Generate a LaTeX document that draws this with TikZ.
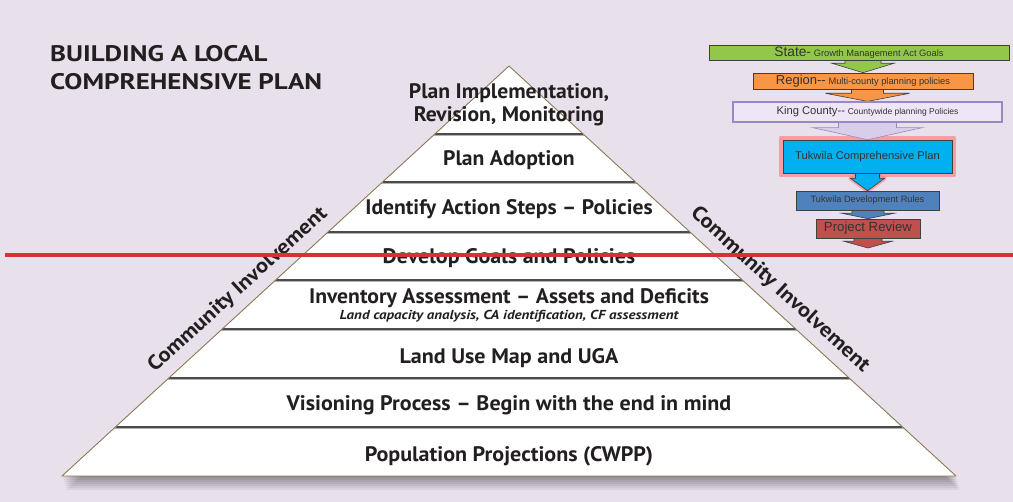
\documentclass[tikz,border=0pt]{standalone}
\usepackage{fontspec}
\setmainfont{PT Sans}
\newfontfamily\tierfont[Ligatures=TeX, FakeStretch=1.03]{PT Sans}
\newfontfamily\widetierfont[Ligatures=TeX, FakeStretch=1.05]{PT Sans}
\newfontfamily\notefont[Ligatures=TeX, FakeStretch=1.15]{PT Sans}
\newfontfamily\headfont[FakeStretch=1.2]{PT Sans}
\newfontfamily\asidefont[FakeStretch=1.1]{PT Sans}
\newfontfamily\arialfont{Liberation Sans}
\usetikzlibrary{calc}

\definecolor{backdrop}{RGB}{232,224,235}
\definecolor{ink}{RGB}{35,31,32}
\definecolor{rim}{RGB}{138,123,83}
\definecolor{stategreen}{RGB}{146,200,74}
\definecolor{regionorange}{RGB}{247,150,70}
\definecolor{countylilac}{RGB}{238,230,246}
\definecolor{countyedge}{RGB}{155,135,195}
\definecolor{plancyan}{RGB}{0,176,240}
\definecolor{rulesblue}{RGB}{79,129,189}
\definecolor{reviewred}{RGB}{192,80,77}
\definecolor{cutred}{RGB}{209,52,56}

\pgfdeclarelayer{backdrop}
\pgfdeclarelayer{under}
\pgfsetlayers{backdrop,under,main}

\tikzset{
  tier/.style={font=\tierfont\bfseries\fontsize{21}{23.5}\selectfont, text=ink, inner sep=0pt, anchor=base},
  widetier/.style={tier, font=\widetierfont\bfseries\fontsize{21}{23.5}\selectfont},
  heading/.style={font=\headfont\bfseries\fontsize{22.5}{28.6}\selectfont, text=ink, inner sep=0pt},
  aside/.style={font=\asidefont\bfseries\fontsize{20.5}{22}\selectfont, text=ink, inner sep=0pt},
  divider/.style={draw=black!70, line width=1.8pt},
  dividerlo/.style={draw=black!30, line width=1.2pt},
  outline/.style={draw=rim, line width=0.9pt, line join=round},
  flowbox/.style={draw=black!75, line width=0.6pt, inner sep=0pt, font=\arialfont, text=black!80},
  flowtip/.style={draw=black!75, line width=0.6pt},
  glow/.style={draw=red!55!white, line width=4pt, opacity=.6, line join=round},
  cut/.style={draw=cutred, line width=4.5pt}
}

% block arrow hanging under a box: from, to, shaft half width, wing half width, neck
\newcommand{\flowarrow}[6]{%
  \draw[#1] ($(#2 -| #3)+(-#4,0)$) -- ++(0,#6) -- ++(#4-#5,0) -- (#3)
    -- ($(#2 -| #3)+(#5,#6)$) -- ++(#4-#5,0) -- ($(#2 -| #3)+(#4,0)$) -- cycle;}

\begin{document}
\begin{tikzpicture}[x=1pt, y=-1pt]
\useasboundingbox (0,0) rectangle (1013,502);
\begin{pgfonlayer}{backdrop}
  \fill[backdrop] (0,0) rectangle (1013,502);
\end{pgfonlayer}

% pyramid
\coordinate (apex) at (509,66);
\coordinate (bl) at (62,476);
\coordinate (br) at (956,476);
\foreach \k in {1,...,7}
  \fill[black, opacity=.06] ($(bl)+(\k*.6,\k*2)$) -- ($(apex)+(\k*.6,\k*2)$) -- ($(br)+(\k*.6,\k*2)$) -- cycle;
\fill[white] (bl) -- (apex) -- (br) -- cycle;
\foreach \y in {134,182,232,280,329,378,427} {
  \draw[dividerlo] ({509-(\y-64.5)*1.09},\y+1.5) -- ({509+(\y-64.5)*1.09},\y+1.5);
  \draw[divider] ({509-(\y-66)*1.09},\y) -- ({509+(\y-66)*1.09},\y);
}
\draw[outline] (bl) -- (apex) -- (br) -- cycle;

\node[tier, anchor=north, align=center] (implement) at (509,83) {Plan Implementation,\\Revision, Monitoring};
\node[tier] (adoption) at (509,166) {Plan Adoption};
\node[tier] (actions) at (509,215) {Identify Action Steps -- Policies};
\node[widetier] (goals) at (509,263.3) {Develop Goals and Policies};
\node[tier] (inventory) at (509,304) {Inventory Assessment -- Assets and Deficits};
\node[tier, font=\notefont\bfseries\itshape\fontsize{13}{14}\selectfont] (capacity) at (509,320) {Land capacity analysis, CA identification, CF assessment};
\node[widetier] (landuse) at (509,363.3) {Land Use Map and UGA};
\node[widetier] (visioning) at (509,410.7) {Visioning Process -- Begin with the end in mind};
\node[widetier] (population) at (509,461.7) {Population Projections (CWPP)};

\node[aside, rotate=42.4] (involveL) at (238,290) {Community Involvement};
\node[aside, rotate=-42.4] (involveR) at (780,290) {Community Involvement};

\node[heading, anchor=north west, align=left] (title) at (50,45) {BUILDING A LOCAL\\COMPREHENSIVE PLAN};

% planning hierarchy
\node[flowbox, fill=stategreen, minimum width=300pt, minimum height=15pt] (state) at (859,52.5)
  {{\fontsize{13.7}{14}\selectfont State-} {\fontsize{9.3}{10}\selectfont Growth Management Act Goals}};
\node[flowbox, fill=regionorange, minimum width=220pt, minimum height=16pt] (region) at (863,81)
  {{\fontsize{13}{14}\selectfont Region--} {\fontsize{9.3}{10}\selectfont Multi-county planning policies}};
\node[flowbox, draw=countyedge, line width=1.2pt, fill=countylilac, minimum width=269pt, minimum height=20pt] (county) at (867.5,112)
  {{\fontsize{11.2}{12}\selectfont King County--} {\fontsize{8.5}{9}\selectfont Countywide planning Policies}};
\node[flowbox, fill=plancyan, minimum width=169pt, minimum height=33pt, font=\arialfont\fontsize{11.2}{12}\selectfont] (plan) at (867.5,156.5)
  {Tukwila Comprehensive Plan};
\node[flowbox, fill=rulesblue, minimum width=143pt, minimum height=19pt, font=\arialfont\fontsize{9.2}{10}\selectfont] (rules) at (867.5,200.5)
  {Tukwila Development Rules};
\node[flowbox, fill=reviewred, minimum width=104pt, minimum height=19pt, font=\arialfont\fontsize{13.2}{14}\selectfont] (review) at (868,228.5)
  {Project Review};
\coordinate (reviewEnd) at (868,248);

\begin{pgfonlayer}{under}
  \draw[glow] ($(plan.south west)+(-2,2)$) rectangle ($(plan.north east)+(2,-2)$);
  \flowarrow{glow}{plan.south}{rules.north}{12}{17}{5}
  \flowarrow{flowtip, fill=stategreen}{state.south}{region.north}{18}{31}{3}
  \flowarrow{flowtip, fill=regionorange}{region.south}{county.north}{16}{42}{4}
  \flowarrow{flowtip, draw=countyedge, fill=countylilac!75!countyedge}{county.south}{plan.north}{29}{55}{5}
  \flowarrow{flowtip, fill=plancyan}{plan.south}{rules.north}{12}{17}{5}
  \flowarrow{flowtip, fill=rulesblue}{rules.south}{review.north}{16}{26}{3}
  \flowarrow{flowtip, fill=reviewred}{review.south}{reviewEnd}{14}{24}{3}
\end{pgfonlayer}

\draw[cut] (5,255) -- (1013,255);
\end{tikzpicture}
\end{document}
